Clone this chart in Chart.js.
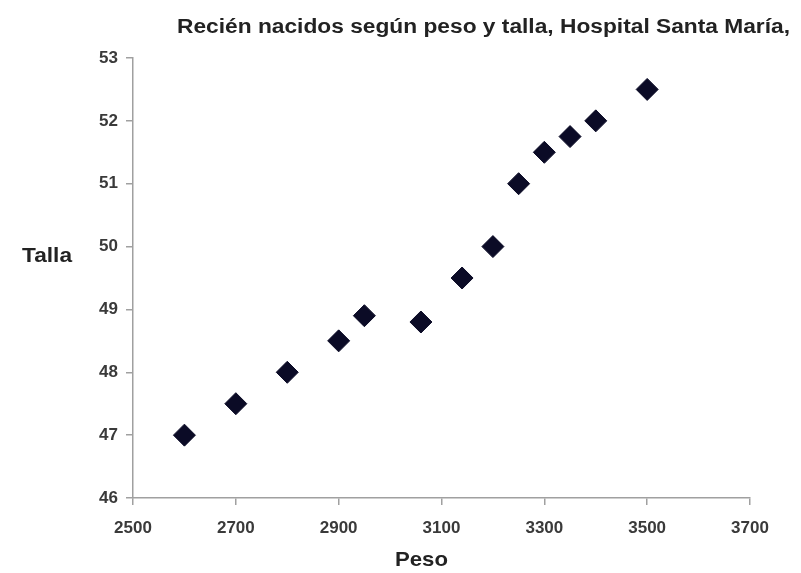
<!DOCTYPE html>
<html>
<head>
<meta charset="utf-8">
<script src="https://cdn.jsdelivr.net/npm/chart.js@4.4.1/dist/chart.umd.min.js"></script>
<style>
  html, body { margin: 0; padding: 0; background: #fff; }
  #wrap { width: 801px; height: 573px; }
</style>
</head>
<body>
<div id="wrap"><canvas id="grafico"></canvas></div>
<script>
// Recién nacidos: peso (g) y talla (cm)
const peso  = [2600, 2700, 2800, 2900, 2950, 3060, 3140, 3200, 3250, 3300, 3350, 3400, 3500];
const talla = [47, 47.5, 48, 48.5, 48.9, 48.8, 49.5, 50, 51, 51.5, 51.75, 52, 52.5];

const titulo = 'Recién nacidos según peso y talla, Hospital Santa María,';
const tituloY = 'Talla';
const tituloX = 'Peso';

const puntos = peso.map((p, i) => ({ x: p, y: talla[i] }));

// el original tiene el texto algo ensanchado, así que se estira en horizontal
function textoAncho(c, txt, x, y, ancho) {
  const w = c.measureText(txt).width;
  c.save();
  c.translate(x, y);
  c.scale(ancho / w, 1);
  c.fillText(txt, 0, 0);
  c.restore();
}

const textos = {
  id: 'textos',
  afterDraw(chart) {
    const c = chart.ctx;
    c.save();
    c.fillStyle = '#222';
    c.textBaseline = 'middle';
    c.textAlign = 'left';
    c.font = 'bold 20px "Liberation Sans", Arial, sans-serif';
    textoAncho(c, titulo, 177, 27, 613);
    textoAncho(c, tituloY, 22, 256, 50);
    c.font = 'bold 21px "Liberation Sans", Arial, sans-serif';
    textoAncho(c, tituloX, 395, 560, 53);
    c.restore();
  }
};

const ctx = document.getElementById('grafico');
new Chart(ctx, {
    type: 'scatter',
    data: {
        datasets: [{
            label: 'Talla',
            data: puntos,
            pointStyle: 'rectRot',
            pointRadius: 11,
            pointHoverRadius: 11,
            backgroundColor: '#0b0b26',
            borderColor: '#0b0b26',
            borderWidth: 1
        }]
    },
    options: {
        responsive: true,
        maintainAspectRatio: false,
        animation: false,
        layout: { padding: { top: 58, right: 51, left: 0, bottom: 0 } },
        plugins: {
            legend: { display: false },
            tooltip: { enabled: false }
        },
        scales: {
            x: {
                min: 2500,
                max: 3700,
                ticks: {
                    stepSize: 200,
                    color: '#3a3a3a',
                    padding: 13,
                    callback: v => String(v),
                    font: { family: '"Liberation Sans", Arial', size: 17, weight: 'bold' }
                },
                grid: { drawOnChartArea: false, tickLength: 7, color: '#a0a0a0', lineWidth: 1.5 },
                border: { color: '#a0a0a0', width: 1.5 },
                afterFit(scale) { scale.height = 75; }
            },
            y: {
                min: 46,
                max: 53,
                ticks: {
                    stepSize: 1,
                    color: '#3a3a3a',
                    padding: 8,
                    font: { family: '"Liberation Sans", Arial', size: 17, weight: 'bold' }
                },
                grid: { drawOnChartArea: false, tickLength: 7, color: '#a0a0a0', lineWidth: 1.5 },
                border: { color: '#a0a0a0', width: 1.5 },
                afterFit(scale) { scale.width = 133; }
            }
        }
    },
    plugins: [textos]
});
</script>
</body>
</html>
